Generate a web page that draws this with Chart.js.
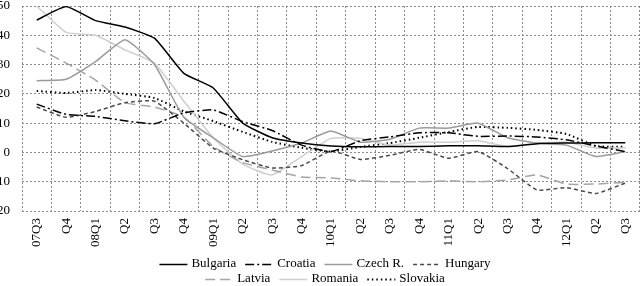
<!DOCTYPE html>
<html>
<head>
<meta charset="utf-8">
<script src="https://cdn.jsdelivr.net/npm/chart.js@4"></script>
<style>
html,body{margin:0;padding:0;background:#fff;overflow:hidden}
#wrap{position:absolute;left:-8px;top:0;width:650px;height:286px}
</style>
</head>
<body>
<div id="wrap"><canvas id="c"></canvas></div>
<script>
const quarters = ['07Q3','Q4','08Q1','Q2','Q3','Q4','09Q1','Q2','Q3','Q4','10Q1','Q2','Q3','Q4','11Q1','Q2','Q3','Q4','12Q1','Q2','Q3'];

const bulgaria = [45.2, 49.8, 45, 42.8, 39, 27, 22, 10, 5, 3.2, 2.2, 1.9, 2, 2, 2.3, 2.3, 2, 3, 3.2, 3.3, 3.3];
const croatia  = [16.5, 13, 12.3, 10.8, 9.8, 13.5, 14.5, 10.5, 7.5, 2.5, 0.3, 4, 5.3, 6.7, 6.7, 5.5, 5.6, 5.3, 4.3, 2.2, 0.3];
const czech    = [24.5, 25, 31, 38.5, 30, 12, 5, -1.4, 0.5, 3.2, 7.3, 3.5, 4.5, 8.3, 8.3, 10, 5, 3.2, 2.5, -1.4, 0.3];
const hungary  = [15.5, 12, 14, 17, 17.5, 10, 1.5, -2.5, -5.3, -4.5, 0.5, -2.4, -1, 1, -2, 0.3, -5.5, -12.8, -12, -14, -10.5];
const latvia   = [35.7, 30.5, 24.7, 17, 15.5, 12, 2, -3.5, -6, -8.4, -8.7, -9.7, -10, -10, -9.7, -10, -9.4, -7.7, -10.8, -10.8, -10.2];
const romania  = [50, 41, 40, 35, 30.5, 17.5, 5, -4, -7.7, -1.4, 4.8, 4.8, 2.5, 3.5, 3.5, 4, 2, 3, 3.5, 1.5, 1.5];
const slovakia = [21, 20.3, 21.3, 20, 18.6, 14, 10.7, 7, 3.6, 1.6, 0.3, 1.9, 3.2, 5, 7, 8.7, 8.4, 7.7, 6.3, 2.2, 1.9];

const legendRows = [['Bulgaria','Croatia','Czech R.','Hungary'], ['Latvia','Romania','Slovakia']];
const FONT = '"Liberation Serif", "Times New Roman", serif';

function line(label, data, color, dash, width) {
  return {
    label: label, data: data,
    borderColor: color, backgroundColor: color,
    borderDash: dash, borderWidth: width || 1.5,
    pointRadius: 0, tension: 0.15, fill: false
  };
}

// legend drawn by hand so it breaks into two rows like the original
const twoRowLegend = {
  id: 'twoRowLegend',
  afterDraw(chart) {
    const ctx = chart.ctx;
    ctx.save();
    ctx.font = '13px ' + FONT;
    ctx.textBaseline = 'middle';
    const rowY = [264, 279];
    legendRows.forEach((row, r) => {
      const sets = row.map(n => chart.data.datasets.find(d => d.label === n));
      const widths = sets.map(d => 28 + 4 + ctx.measureText(d.label).width);
      const total = widths.reduce((a, b) => a + b, 0) + 9 * (sets.length - 1);
      let x = chart.width / 2 + 8 - total / 2;
      const y = rowY[r];
      sets.forEach((d, i) => {
        ctx.strokeStyle = d.borderColor;
        ctx.lineWidth = d.borderWidth;
        ctx.setLineDash(d.borderDash || []);
        ctx.beginPath();
        ctx.moveTo(x, y + 0.5);
        ctx.lineTo(x + 28, y + 0.5);
        ctx.stroke();
        ctx.setLineDash([]);
        ctx.fillStyle = '#000';
        ctx.fillText(d.label, x + 32, y);
        x += widths[i] + 9;
      });
    });
    ctx.restore();
  }
};

new Chart(document.getElementById('c'), {
  type: 'line',
  data: {
    labels: quarters,
    datasets: [
      line('Bulgaria', bulgaria, '#000000', []),
      line('Croatia', croatia, '#000000', [9, 3, 2, 3]),
      line('Czech R.', czech, '#9a9a9a', []),
      line('Hungary', hungary, '#4a4a4a', [4, 3]),
      line('Latvia', latvia, '#a5a5a5', [10, 5]),
      line('Romania', romania, '#cfcfcf', []),
      line('Slovakia', slovakia, '#000000', [1.5, 3], 2)
    ]
  },
  options: {
    responsive: true,
    maintainAspectRatio: false,
    animation: false,
    layout: { padding: { top: 6, right: 2, bottom: 35, left: 0 } },
    plugins: { legend: { display: false }, tooltip: { enabled: false } },
    scales: {
      x: {
        offset: true,
        grid: { offset: true, color: '#8a8a8a', lineWidth: 1, drawTicks: false },
        border: { display: false, dash: [2, 2] },
        ticks: {
          autoSkip: false, maxRotation: 90, minRotation: 90, padding: 7,
          color: '#000', font: { family: FONT, size: 13 }
        },
        afterFit(s) { s.height = 40; s.paddingLeft = 0; s.paddingRight = 0; }
      },
      y: {
        min: -20, max: 50,
        grid: { color: '#8a8a8a', lineWidth: 1, drawTicks: false },
        border: { display: false, dash: [2, 2] },
        ticks: {
          stepSize: 10, padding: 12,
          color: '#000', font: { family: FONT, size: 13 }
        },
        afterFit(s) { s.width = 30; s.paddingTop = 0; s.paddingBottom = 0; }
      }
    }
  },
  plugins: [twoRowLegend]
});
</script>
</body>
</html>
